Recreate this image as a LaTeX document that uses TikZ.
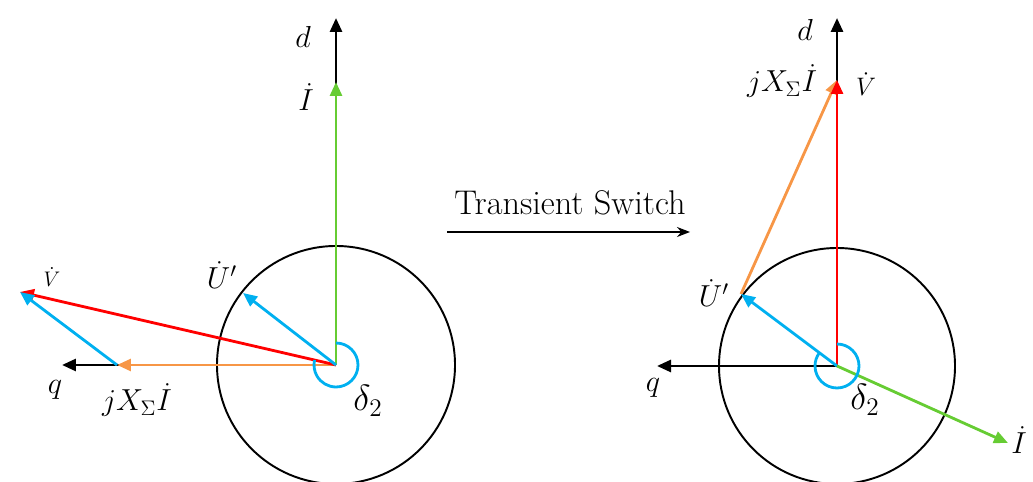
\documentclass[tikz,border=0pt]{standalone}
\usepackage{amsmath}
\usetikzlibrary{arrows.meta, positioning, calc}
\definecolor{phred}{RGB}{255,0,0}
\definecolor{phgreen}{RGB}{102,204,51}
\definecolor{phblue}{RGB}{0,176,240}
\definecolor{phorange}{RGB}{247,150,70}
\tikzset{
  % Phasor styles
  vec/.style={-{Triangle[length=2.8mm, width=2.4mm]}, line width=1.6pt},
  axis/.style={vec, draw=black},
  ring/.style={draw=black, line width=1.1pt},
  anglemark/.style={draw=phblue, line width=1.6pt},
  lbl/.style={font=\fontsize{17}{20}\selectfont, inner sep=1pt},
  midlbl/.style={font=\fontsize{14}{17}\selectfont, inner sep=1pt},
  smalllbl/.style={font=\fontsize{12}{14}\selectfont, inner sep=1pt},
  biglbl/.style={font=\fontsize{21}{25}\selectfont, inner sep=1pt},
}
\begin{document}
\begin{tikzpicture}[x=0.02cm, y=0.02cm]
    \useasboundingbox (0,0) rectangle (1033,482);

    % ---------- Left diagram ----------
    \coordinate (oL) at (336,117);
    \coordinate (dL) at (336,464);
    \coordinate (qL) at (62,117);
    \coordinate (iL) at (336,400);
    \coordinate (xL) at (117,117);
    \coordinate (vL) at (20,190);
    \coordinate (uL) at (243,189);

    \draw[ring] (oL) circle[radius=119];
    \draw[axis] (oL) -- (dL);
    \draw[axis] (oL) -- (qL);
    \draw[vec, draw=phgreen] (oL) -- (iL);
    \draw[vec, draw=phorange] (oL) -- (xL);
    \draw[vec, draw=phred] (oL) -- (vL);
    \draw[vec, draw=phblue] (oL) -- (uL);
    \draw[vec, draw=phblue] (xL) -- (vL);
    \draw[anglemark] ($(oL)+(90:22)$) arc[start angle=90, end angle=-193, radius=22];

    \node[lbl] (dLlbl) at (303,445) {$d$};
    \node[lbl] (iLlbl) at (306,385) {$\dot{I}$};
    \node[lbl] (qLlbl) at (55,92) {$q$};
    \node[lbl] (xLlbl) at (137,82) {$jX_{\Sigma}\dot{I}$};
    \node[smalllbl] (vLlbl) at (52,205) {$\dot{V}$};
    \node[lbl] (uLlbl) at (222,207) {$\dot{U}'$};
    \node[biglbl] (aLlbl) at (368,81) {$\delta_2$};

    % ---------- Switch ----------
    \node[font=\fontsize{19.5}{23}\selectfont] (switch) at (570,279) {Transient Switch};
    \coordinate (swA) at (447,250);
    \coordinate (swB) at (690,250);
    \draw[-{Stealth[length=2.6mm, width=2mm]}, line width=0.8pt] (swA) -- (swB);

    % ---------- Right diagram ----------
    \coordinate (oR) at (837,116);
    \coordinate (dR) at (837,464);
    \coordinate (qR) at (657,116);
    \coordinate (vR) at (837,402);
    \coordinate (uR) at (741,188);
    \coordinate (iR) at (1008,39);

    \draw[ring] (oR) circle[radius=118];
    \draw[axis] (oR) -- (dR);
    \draw[axis] (oR) -- (qR);
    \draw[vec, draw=phorange] (uR) -- (vR);
    \draw[vec, draw=phred] (oR) -- (vR);
    \draw[vec, draw=phblue] (oR) -- (uR);
    \draw[vec, draw=phgreen] (oR) -- (iR);
    \draw[anglemark] ($(oR)+(90:22)$) arc[start angle=90, end angle=-217, radius=22];

    \node[lbl] (dRlbl) at (805,452) {$d$};
    \node[midlbl] (vRlbl) at (866,398) {$\dot{V}$};
    \node[lbl] (xRlbl) at (782,401) {$jX_{\Sigma}\dot{I}$};
    \node[lbl] (uRlbl) at (714,189) {$\dot{U}'$};
    \node[lbl] (qRlbl) at (653,94) {$q$};
    \node[lbl] (iRlbl) at (1019,42) {$\dot{I}$};
    \node[biglbl] (aRlbl) at (865,82) {$\delta_2$};
\end{tikzpicture}
\end{document}
